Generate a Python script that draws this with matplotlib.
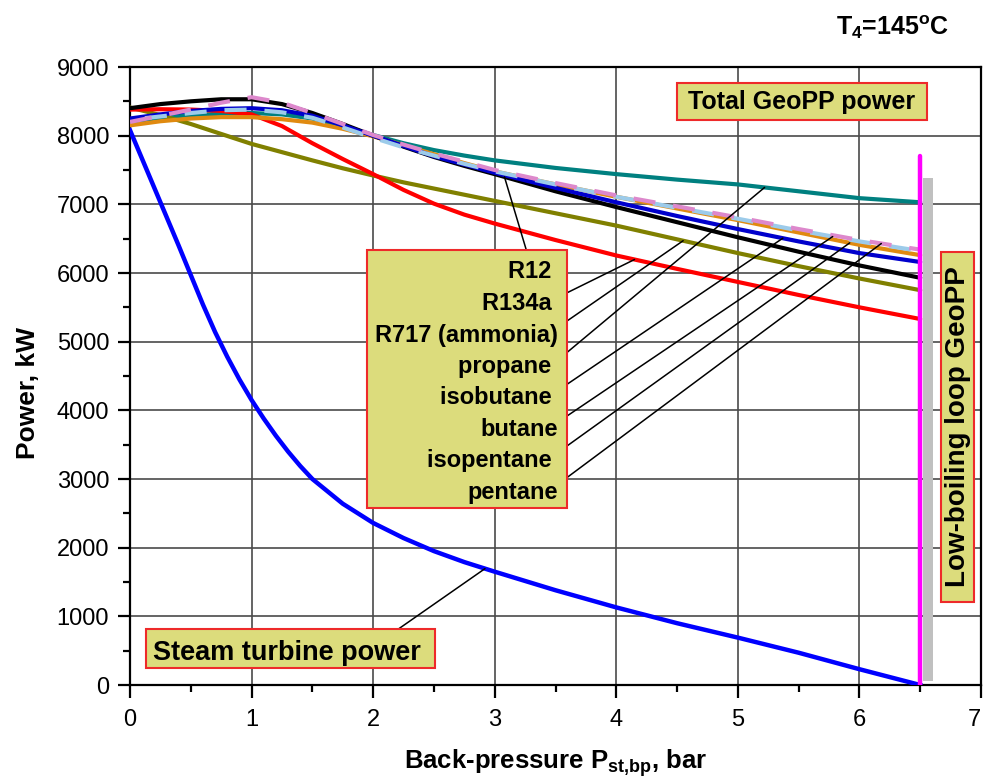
import numpy as np
import matplotlib
matplotlib.use("Agg")
import matplotlib.pyplot as plt
from matplotlib.patches import Rectangle

plt.rcParams['font.family'] = ['Liberation Sans', 'DejaVu Sans']
plt.rcParams['mathtext.fontset'] = 'custom'
plt.rcParams['mathtext.rm'] = 'Liberation Sans:bold'
plt.rcParams['mathtext.it'] = 'Liberation Sans:bold'
plt.rcParams['mathtext.bf'] = 'Liberation Sans:bold'
plt.rcParams['mathtext.default'] = 'rm'

# ---------------- data ----------------
x_total = [0, 0.25, 0.5, 0.75, 1, 1.25, 1.5, 1.75, 2, 2.25, 2.5, 2.75, 3, 3.5, 4, 4.5, 5, 5.5, 6, 6.5]
total_black = [8400, 8460, 8500, 8530, 8530, 8460, 8330, 8170, 8000, 7840, 7690, 7560, 7440, 7190, 6960, 6740, 6520, 6310, 6110, 5930]
total_blue = [8250, 8310, 8360, 8390, 8400, 8370, 8290, 8150, 8000, 7850, 7700, 7580, 7460, 7240, 7030, 6830, 6640, 6460, 6290, 6160]
total_orange = [8150, 8210, 8250, 8270, 8270, 8240, 8190, 8100, 7990, 7860, 7730, 7600, 7480, 7290, 7110, 6940, 6770, 6590, 6410, 6260]
total_pink = [8200, 8290, 8380, 8480, 8560, 8480, 8330, 8170, 8010, 7870, 7740, 7620, 7500, 7310, 7130, 6970, 6810, 6640, 6480, 6340]
total_lightblue = [8230, 8280, 8330, 8370, 8380, 8340, 8260, 8120, 7970, 7830, 7710, 7590, 7480, 7290, 7110, 6950, 6790, 6620, 6460, 6320]
total_teal = [8200, 8260, 8300, 8320, 8330, 8310, 8250, 8140, 8010, 7890, 7790, 7710, 7640, 7530, 7440, 7360, 7290, 7190, 7090, 7030]
total_olive = [8410, 8300, 8170, 8025, 7880, 7760, 7640, 7525, 7420, 7320, 7230, 7140, 7050, 6870, 6690, 6490, 6290, 6100, 5920, 5750]
total_red = [8380, 8385, 8380, 8360, 8310, 8140, 7890, 7660, 7440, 7210, 7010, 6850, 6720, 6480, 6255, 6060, 5870, 5680, 5500, 5330]

x_steam = [0, 0.1, 0.2, 0.3, 0.4, 0.5, 0.6, 0.7, 0.8, 0.9, 1.0, 1.1, 1.2, 1.3, 1.4, 1.5,
           1.75, 2, 2.25, 2.5, 2.75, 3, 3.5, 4, 4.5, 5, 5.5, 6, 6.5]
steam_power = [8080, 7660, 7240, 6820, 6400, 5970, 5540, 5140, 4780, 4450, 4150, 3880, 3630, 3400, 3190, 3000,
               2640, 2360, 2140, 1950, 1790, 1650, 1380, 1130, 900, 690, 470, 230, 0]

fluids = ['R12', 'R134a', 'R717 (ammonia)', 'propane', 'isobutane', 'butane', 'isopentane', 'pentane']

loop_x = 6.5
loop_top = 7710
loop_bar_top = 7380

# ---------------- figure ----------------
W, H = 984, 784
fig = plt.figure(figsize=(W / 100, H / 100), dpi=100)
L, R, T, B = 130, 981, 67, 685
ax = fig.add_axes([L / W, 1 - B / H, (R - L) / W, (B - T) / H])

def axp(px, py):
    return ((px - L) / (R - L), (B - py) / (B - T))

ax.set_xlim(0, 7)
ax.set_ylim(0, 9000)
ax.set_xticks(np.arange(0, 8, 1))
ax.set_xticks(np.arange(0.5, 7, 1), minor=True)
ax.set_yticks(np.arange(0, 9001, 1000))
ax.set_yticks(np.arange(500, 9000, 1000), minor=True)
ax.grid(True, which='major', color='#4a4a4a', lw=1.2)
ax.set_axisbelow(True)
for s in ax.spines.values():
    s.set_linewidth(1.6)
ax.tick_params(which='major', direction='out', length=9, width=1.6, labelsize=17)
ax.tick_params(axis='x', which='major', pad=8)
ax.tick_params(axis='y', which='major', pad=6)
ax.tick_params(which='minor', direction='out', length=5, width=1.6)
fig.canvas.draw()
xl = ax.get_xticklabels()
xl[-1].set_horizontalalignment('right')
xl[-1].set_x(7.0)

# curves
lw = 3.0
series = {
    'teal': (total_teal, '#008080', '-'),
    'olive': (total_olive, '#808000', '-'),
    'red': (total_red, '#ff0000', '-'),
    'orange': (total_orange, '#e08a10', '-'),
    'black': (total_black, '#000000', '-'),
    'blue': (total_blue, '#0000cc', '-'),
    'lightblue': (total_lightblue, '#9ccbea', (6, (5.3, 4.3))),
    'pink': (total_pink, '#dd88cc', (0, (5.3, 4.3))),
}
for name, (vals, col, ls) in series.items():
    ax.plot(x_total, vals, color=col, lw=lw, ls=ls, solid_capstyle='round', zorder=3)

ax.plot(x_steam, steam_power, color='#0000ff', lw=3.2, zorder=3)

# low-boiling loop markers
ax.bar([loop_x + 0.065], [loop_bar_top - 60], bottom=60, width=0.085, color='#c0c0c0', zorder=2)
ax.plot([loop_x, loop_x], [0, loop_top], color='#ff00ff', lw=3.2, solid_capstyle='round', zorder=4)

box_fc = '#dcdc7c'
box_ec = '#ee2a2a'

def box(px0, py0, px1, py1):
    x0, y1 = axp(px0, py0)
    x1, y0 = axp(px1, py1)
    ax.add_patch(Rectangle((x0, y0), x1 - x0, y1 - y0, transform=ax.transAxes,
                           facecolor=box_fc, edgecolor=box_ec, lw=1.5, zorder=6))

# leader lines
def leader(px, py, vals, xt):
    yt = float(np.interp(xt, x_total, vals))
    ax.annotate('', xy=(xt, yt), xycoords='data', xytext=axp(px, py), textcoords='axes fraction',
                arrowprops=dict(arrowstyle='-', lw=1.1, color='black', shrinkA=0, shrinkB=0), zorder=5)

leader(526, 249, total_black, 3.08)
starts = [293.3, 321.7, 353.3, 385, 416.7, 446.7, 478.3]
targets = [(total_red, 4.15), (total_olive, 4.55), (total_teal, 5.22), (total_blue, 5.37),
           (total_lightblue, 5.78), (total_orange, 5.92), (total_pink, 6.18)]
for py, (vals, xt) in zip(starts, targets):
    leader(566, py, vals, xt)

# steam leader
ys = float(np.interp(2.92, x_steam, steam_power))
ax.annotate('', xy=(2.92, ys), xycoords='data', xytext=axp(397, 630), textcoords='axes fraction',
            arrowprops=dict(arrowstyle='-', lw=1.1, color='black', shrinkA=0, shrinkB=0), zorder=5)

# boxes
box(677, 83, 927, 120)
ax.text(*axp(802, 102), 'Total GeoPP power', transform=ax.transAxes, ha='center', va='center',
        fontsize=18, fontweight='bold', zorder=7)

box(146, 629, 435, 668)
ax.text(*axp(153, 660), 'Steam turbine power', transform=ax.transAxes, ha='left', va='baseline',
        fontsize=19.5, fontweight='bold', zorder=7)

box(367, 250, 567, 508)
label_y = [271, 302.5, 334.5, 366, 397, 428.5, 460, 492]
label_txt = ['R12 ', 'R134a ', 'R717 (ammonia)', 'propane ', 'isobutane ', 'butane', 'isopentane ', 'pentane']
for yy, tt in zip(label_y, label_txt):
    ax.text(*axp(558, yy + 7.5), tt, transform=ax.transAxes, ha='right', va='baseline',
            fontsize=17, fontweight='bold', zorder=7)

box(941, 252, 974, 602)
ax.text(*axp(958, 427), 'Low-boiling loop GeoPP', transform=ax.transAxes, ha='center', va='center',
        rotation=90, fontsize=20, fontweight='bold', zorder=7)

# axis labels
ax.set_xlabel('Back-pressure P$_{st{,}bp}$, bar', fontsize=18.5, fontweight='bold', labelpad=12)
fig.text(28 / W, 1 - 393 / H, 'Power, kW', rotation=90, ha='center', va='center',
         fontsize=19, fontweight='bold')
fig.text(893 / W, 1 - 35 / H, 'T$_4$=145$^{o}$C', ha='center', va='baseline', fontsize=18,
         fontweight='bold')

fig.savefig('out.png', dpi=100)
